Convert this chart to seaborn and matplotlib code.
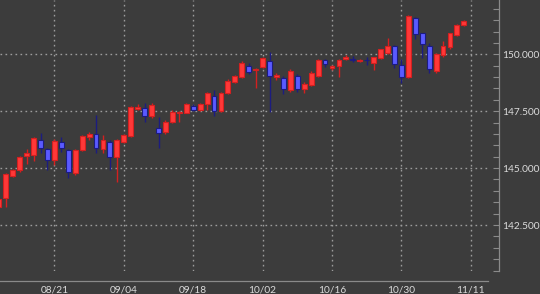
import numpy as np
import matplotlib
matplotlib.use("Agg")
import matplotlib.pyplot as plt
import matplotlib.transforms as mtransforms
from matplotlib.ticker import MultipleLocator, FuncFormatter
import seaborn as sns

# ---- data (daily candles, oldest first) ----
opens = [143.30, 143.67, 144.67, 144.92, 145.55, 145.58, 146.23, 145.82,
         145.36, 146.16, 145.80, 144.77, 145.80, 146.38, 146.50, 145.83,
         146.16, 145.50, 146.16, 146.41, 147.60, 147.63, 147.29, 146.75,
         146.60, 147.04, 147.40, 147.43, 147.73, 147.55, 147.82, 148.17,
         147.52, 148.29, 148.80, 148.99, 149.49, 149.30, 149.43, 149.72,
         149.00, 148.97, 148.43, 149.05, 148.46, 148.65, 149.05, 149.75,
         149.38, 149.49, 149.80, 149.80, 149.70, 149.77, 149.60, 149.82,
         150.07, 150.36, 149.53, 149.02, 151.58, 150.92, 150.36, 149.27,
         149.97, 150.31, 150.85, 151.29]
highs = [143.70, 144.80, 144.95, 145.55, 145.85, 146.35, 146.56, 145.87,
         146.30, 146.38, 145.85, 145.85, 146.45, 146.60, 147.33, 146.45,
         146.23, 146.30, 146.50, 147.75, 147.80, 147.85, 147.85, 147.26,
         147.10, 147.55, 147.50, 147.85, 147.82, 147.85, 148.35, 148.43,
         148.35, 148.90, 149.10, 149.70, 149.60, 149.38, 149.90, 150.11,
         149.20, 149.05, 149.35, 149.15, 148.80, 149.25, 149.80, 149.80,
         149.55, 149.80, 149.95, 149.92, 149.80, 149.90, 149.90, 150.25,
         150.70, 150.42, 149.78, 151.72, 151.63, 150.95, 150.48, 150.05,
         150.60, 150.95, 151.35, 151.50]
lows = [143.10, 143.30, 144.60, 144.85, 145.20, 145.30, 145.65, 144.92,
        145.14, 145.72, 144.55, 144.70, 145.75, 146.25, 145.65, 145.65,
        144.92, 144.40, 146.10, 146.35, 147.55, 147.04, 147.20, 145.87,
        146.50, 146.98, 147.04, 147.40, 147.50, 147.50, 147.55, 147.29,
        147.48, 148.25, 148.75, 148.95, 149.15, 148.50, 149.40, 147.48,
        148.85, 148.26, 148.35, 148.35, 148.30, 148.60, 149.00, 149.46,
        149.30, 149.02, 149.75, 149.65, 149.65, 149.53, 149.31, 149.78,
        150.00, 149.40, 148.75, 148.95, 150.66, 149.82, 149.17, 149.20,
        149.90, 150.25, 150.80, 151.25]
closes = [143.65, 144.74, 144.90, 145.50, 145.65, 146.31, 145.87, 145.36,
          146.20, 145.87, 144.84, 145.80, 146.41, 146.50, 145.87, 146.23,
          145.50, 146.23, 146.45, 147.70, 147.70, 147.29, 147.77, 146.56,
          147.04, 147.48, 147.48, 147.82, 147.55, 147.82, 148.31, 147.52,
          148.31, 148.84, 149.05, 149.60, 149.24, 149.35, 149.82, 149.05,
          149.10, 148.46, 149.27, 148.46, 148.70, 149.17, 149.75, 149.57,
          149.50, 149.75, 149.90, 149.76, 149.77, 149.73, 149.87, 150.22,
          150.36, 149.57, 149.02, 151.68, 150.89, 150.44, 149.34, 150.00,
          150.36, 150.92, 151.29, 151.46]
tick_labels = ["08/21", "09/04", "09/18", "10/02", "10/16", "10/30", "11/11"]
first_tick_index = 8      # candle index of 08/21
tick_step = 10            # trading days between labels
top_price_label = 152.5   # partially visible label at the top edge

# ---- style ----
BG = "#3c3c3c"
UP_FILL, UP_EDGE = "#ff3838", "#d42020"
DN_FILL, DN_EDGE = "#5a5aff", "#1c1c80"
GRID = "#9c9c9c"
AXC = "#8a8a8a"
TXT = "#dcdcdc"
FS = 7.3

sns.set_theme(style="dark", rc={"axes.facecolor": BG, "figure.facecolor": BG})
plt.rcParams["font.family"] = ["Lato", "DejaVu Sans"]

fig = plt.figure(figsize=(5.40, 2.94), dpi=100)
ax = fig.add_axes([0.0, 23 / 294, 488 / 540, 271 / 294])
ax.set_facecolor(BG)

o = np.array(opens); h = np.array(highs); l = np.array(lows); c = np.array(closes)
x = np.arange(len(o))
up = c >= o

# wicks
ax.vlines(x[up], l[up], h[up], color=UP_EDGE, linewidth=1.0, zorder=3)
ax.vlines(x[~up], l[~up], h[~up], color=DN_EDGE, linewidth=1.0, zorder=3)
# bodies
body_lo = np.minimum(o, c)
body_h = np.maximum(np.abs(c - o), 0.04)
ax.bar(x[up], body_h[up], bottom=body_lo[up], width=0.7,
       color=UP_FILL, edgecolor=UP_EDGE, linewidth=0.8, zorder=4)
ax.bar(x[~up], body_h[~up], bottom=body_lo[~up], width=0.7,
       color=DN_FILL, edgecolor=DN_EDGE, linewidth=0.8, zorder=4)

# limits
ax.set_xlim(first_tick_index - 7.84, first_tick_index + 62.48)
ax.set_ylim(140.48, 152.386)

# x ticks
tick_pos = [first_tick_index + tick_step * k for k in range(len(tick_labels))]
ax.set_xticks(tick_pos)
ax.set_xticklabels(tick_labels)
ax.xaxis.set_minor_locator(MultipleLocator(2))
ax.tick_params(axis="x", which="major", direction="out", length=4, width=0.8,
               color=AXC, labelcolor=TXT, labelsize=FS, pad=-0.5)
ax.tick_params(axis="x", which="minor", direction="out", length=3, width=0.8,
               color=AXC)

# y ticks on the right
fmt = lambda v, p=None: f"{v:.3f}"
ax.yaxis.tick_right()
ax.yaxis.set_major_locator(MultipleLocator(2.5))
ax.yaxis.set_minor_locator(MultipleLocator(0.5))
ax.yaxis.set_major_formatter(FuncFormatter(fmt))
ax.tick_params(axis="y", which="both", direction="in", length=4, width=0.8,
               color=AXC, labelcolor=TXT, labelsize=FS, pad=2,
               left=False, right=True, labelleft=False, labelright=True)

# top label that is cut by the figure edge in the reference
trans = mtransforms.blended_transform_factory(ax.transAxes, ax.transData)
trans = trans + mtransforms.ScaledTranslation(10 / 100, 0, fig.dpi_scale_trans)
ax.text(1.0, top_price_label, fmt(top_price_label), transform=trans,
        ha="left", va="center", fontsize=FS, color=TXT, clip_on=False)

# spines
for s in ["top", "left"]:
    ax.spines[s].set_visible(False)
ax.spines["right"].set_position(("outward", 8))
ax.spines["bottom"].set_position(("outward", 7))
for s in ["right", "bottom"]:
    ax.spines[s].set_color(AXC)
    ax.spines[s].set_linewidth(0.9)

# grid
ax.grid(True, which="major", axis="both", color=GRID, linestyle=(0, (1.2, 2.4)),
        linewidth=1.0, zorder=1)
ax.grid(False, which="minor")
ax.set_axisbelow(True)

fig.savefig("out.png", dpi=100, facecolor=BG)
